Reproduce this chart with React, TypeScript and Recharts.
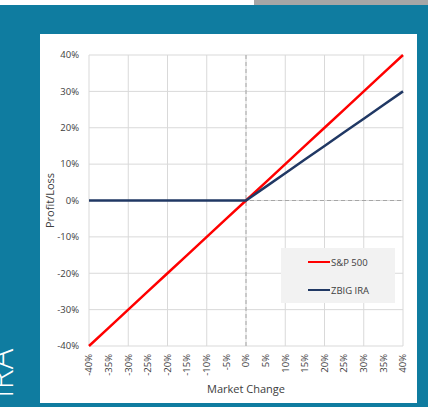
import React from "react";
import {
  LineChart, Line, XAxis, YAxis, CartesianGrid, ReferenceLine, Legend,
} from "recharts";

const marketChange = [-40, -35, -30, -25, -20, -15, -10, -5, 0, 5, 10, 15, 20, 25, 30, 35, 40];
const sp500 = [-40, -35, -30, -25, -20, -15, -10, -5, 0, 5, 10, 15, 20, 25, 30, 35, 40];
const zbigIra = [0, 0, 0, 0, 0, 0, 0, 0, 0, 3.75, 7.5, 11.25, 15, 18.75, 22.5, 26.25, 30];
const yTicks = [-40, -30, -20, -10, 0, 10, 20, 30, 40];
const xGrid = [-40, -30, -20, -10, 0, 10, 20, 30, 40];

const data = marketChange.map((m, i) => ({ m, sp: sp500[i], zbig: zbigIra[i] }));

const FONT = "'Open Sans', 'Noto Sans', sans-serif";
const TEXT = "#404040";

// rotated x tick, reads bottom-to-top, ending just under the axis
const XTick = (props: any) => {
  const { x, y, payload } = props;
  const ty = y;
  return (
    <text
      x={x}
      y={ty}
      transform={`rotate(-90 ${x} ${ty})`}
      textAnchor="end"
      dy="0.35em"
      fontSize={9.5}
      fontFamily={FONT}
      fill={TEXT}
    >
      {`${payload.value}%`}
    </text>
  );
};

const LegendBox = () => (
  <div
    style={{
      width: 114, height: 55, background: "#f2f2f2", fontFamily: FONT,
      fontSize: 9.5, color: TEXT, boxSizing: "border-box", position: "relative",
    }}
  >
    {[
      { name: "S&P 500", color: "#ff0000", top: 14 },
      { name: "ZBIG IRA", color: "#203864", top: 42 },
    ].map((e) => (
      <div key={e.name} style={{ position: "absolute", left: 27, top: e.top - 7, display: "flex", alignItems: "center", height: 14 }}>
        <span style={{ display: "inline-block", width: 22, height: 2.5, background: e.color }} />
        <span style={{ marginLeft: 1 }}>{e.name}</span>
      </div>
    ))}
  </div>
);

export default function App() {
  return (
    <div style={{ position: "absolute", left: 0, top: 0, width: 428, height: 407, background: "#0f7ca0", overflow: "hidden" }}>
      <div style={{ position: "absolute", left: 0, top: 0, width: 254, height: 5, background: "#ffffff" }} />
      <div style={{ position: "absolute", left: 254, top: 0, width: 174, height: 5, background: "#a6a6a6" }} />
      <svg style={{ position: "absolute", left: 0, top: 0 }} width={40} height={407}>
        <text transform="rotate(-90)" x={-398} y={13} fontSize={34} fontWeight={300} fontFamily={FONT} fill="#ffffff">
          IRA
        </text>
      </svg>
      <div style={{ position: "absolute", left: 40, top: 34, width: 377, height: 369, background: "#ffffff" }}>
        <LineChart width={377} height={369} data={data} margin={{ top: 21, right: 14, bottom: 0, left: 0 }}>
          <CartesianGrid stroke="#d9d9d9" verticalValues={xGrid} horizontalValues={yTicks} />
          <XAxis
            dataKey="m"
            type="number"
            domain={[-40, 40]}
            ticks={marketChange}
            interval={0}
            height={57}
            axisLine={false}
            tickLine={false}
            tick={<XTick />}
            label={{ value: "Market Change", position: "insideBottom", offset: 10, fontSize: 11, fontFamily: FONT, fill: TEXT }}
          />
          <YAxis
            type="number"
            domain={[-40, 40]}
            ticks={yTicks}
            width={49}
            axisLine={false}
            tickLine={false}
            tickMargin={4}
            tickFormatter={(v) => `${v}%`}
            tick={{ fontSize: 9.5, fontFamily: FONT, fill: TEXT }}
            label={{ value: "Profit/Loss", angle: -90, position: "insideLeft", offset: 10, fontSize: 11, fontFamily: FONT, fill: TEXT, style: { textAnchor: "middle" } }}
          />
          <ReferenceLine x={0} stroke="#a6a6a6" strokeDasharray="4 3" />
          <ReferenceLine y={0} stroke="#a6a6a6" strokeDasharray="4 3" />
          <Line dataKey="sp" name="S&P 500" stroke="#ff0000" strokeWidth={2.5} dot={false} isAnimationActive={false} />
          <Line dataKey="zbig" name="ZBIG IRA" stroke="#203864" strokeWidth={2.5} dot={false} isAnimationActive={false} />
          <Legend
            layout="horizontal"
            align="center"
            verticalAlign="middle"
            content={<LegendBox />}
            wrapperStyle={{ position: "absolute", left: 241, top: 214, width: 114, height: 55 }}
          />
        </LineChart>
      </div>
    </div>
  );
}
